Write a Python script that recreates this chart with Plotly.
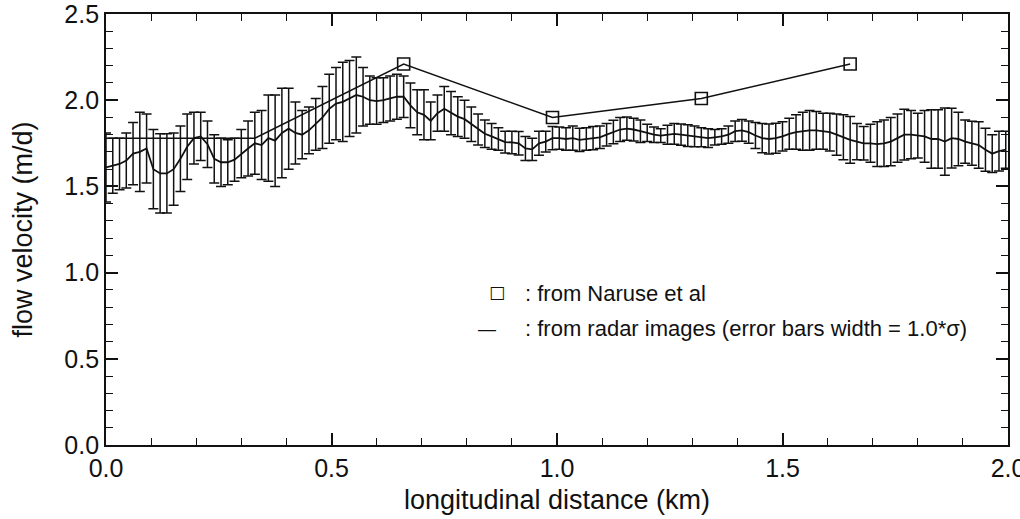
import plotly.graph_objects as go

# ---- data ----
DIST_STEP_KM = 0.015

radar_velocity = [
    1.61, 1.62, 1.63, 1.65, 1.69, 1.70, 1.72, 1.60, 1.575, 1.575, 1.60, 1.66, 1.73, 1.78, 1.79, 1.745,
    1.66, 1.64, 1.64, 1.655, 1.69, 1.72, 1.75,
    1.74, 1.78, 1.765, 1.81, 1.835, 1.81, 1.80, 1.825, 1.86, 1.90, 1.95, 1.98, 1.99, 2.01, 2.03, 2.02,
    2.00, 1.995, 2.00, 2.01, 2.02, 2.02,
    1.97, 1.93, 1.915, 1.88, 1.925, 1.95, 1.925, 1.905, 1.89, 1.86, 1.83, 1.805, 1.79, 1.775, 1.757,
    1.755, 1.75, 1.72, 1.715, 1.75, 1.76, 1.78,
    1.78, 1.775, 1.78, 1.77, 1.775, 1.78, 1.785, 1.80, 1.815, 1.83, 1.835, 1.83, 1.82, 1.81, 1.80,
    1.795, 1.80, 1.805, 1.80, 1.795, 1.79, 1.785, 1.78, 1.785, 1.79, 1.80, 1.82, 1.825, 1.815, 1.795,
    1.78, 1.775, 1.78, 1.79, 1.805, 1.815, 1.82, 1.825, 1.825, 1.82, 1.815, 1.80, 1.785,
    1.77, 1.76, 1.75, 1.75, 1.745, 1.75, 1.76, 1.78, 1.80, 1.80, 1.795, 1.79, 1.775, 1.775, 1.76,
    1.78, 1.775, 1.76, 1.75, 1.74, 1.713, 1.69, 1.705, 1.713,
]

radar_sigma = [
    0.20, 0.16, 0.15, 0.16, 0.18, 0.23, 0.20, 0.23, 0.23, 0.23, 0.21, 0.19, 0.19, 0.15, 0.14, 0.135,
    0.14, 0.14, 0.13, 0.125, 0.14, 0.16, 0.18,
    0.20, 0.25, 0.265, 0.26, 0.235, 0.18, 0.14, 0.135, 0.15, 0.18, 0.20, 0.21, 0.23, 0.22, 0.22, 0.17,
    0.14, 0.135, 0.13, 0.13, 0.13, 0.12,
    0.13, 0.13, 0.145, 0.11, 0.105, 0.13, 0.125, 0.115, 0.11, 0.10, 0.09, 0.08, 0.075, 0.065, 0.063,
    0.065, 0.068, 0.07, 0.065, 0.07, 0.06, 0.068,
    0.065, 0.065, 0.07, 0.068, 0.065, 0.067, 0.065, 0.065, 0.068, 0.07, 0.068, 0.066, 0.065, 0.05, 0.045,
    0.04, 0.055, 0.06, 0.062, 0.063, 0.06, 0.055, 0.055, 0.045, 0.045, 0.05, 0.06, 0.063, 0.065, 0.075,
    0.085, 0.087, 0.087, 0.085, 0.09, 0.10, 0.11, 0.115, 0.11, 0.105, 0.11, 0.12, 0.13,
    0.135, 0.105, 0.097, 0.11, 0.13, 0.135, 0.14, 0.14, 0.147, 0.14, 0.13, 0.15, 0.17, 0.17, 0.195,
    0.173, 0.155, 0.125, 0.128, 0.135, 0.125, 0.11, 0.115, 0.107,
]

radar_km = [round(i * DIST_STEP_KM, 3) for i in range(len(radar_velocity))]

# Naruse et al. profile (line), and the stations drawn with a square marker
naruse_km = [0.0, 0.33, 0.66, 0.99, 1.32, 1.65]
naruse_velocity = [1.78, 1.78, 2.21, 1.90, 2.01, 2.21]
FIRST_MARKED = 2  # the first two profile points are hidden behind the error bars

x_ticks = [0.0, 0.5, 1.0, 1.5, 2.0]
y_ticks = [0.0, 0.5, 1.0, 1.5, 2.0, 2.5]

FONT = "Liberation Sans, Arial, sans-serif"
INK = "#111111"

fig = go.Figure()

fig.add_trace(go.Scatter(
    x=radar_km, y=radar_velocity, mode="lines",
    line=dict(color=INK, width=1.8),
    error_y=dict(type="data", array=radar_sigma, visible=True,
                 color=INK, thickness=1.5, width=5),
    cliponaxis=False,
    showlegend=False,
))

fig.add_trace(go.Scatter(
    x=naruse_km, y=naruse_velocity, mode="lines",
    line=dict(color=INK, width=1.5),
    cliponaxis=False,
    showlegend=False,
))
fig.add_trace(go.Scatter(
    x=naruse_km[FIRST_MARKED:], y=naruse_velocity[FIRST_MARKED:], mode="markers",
    marker=dict(symbol="square-open", size=12, color=INK, line=dict(width=1.6, color=INK)),
    cliponaxis=False,
    showlegend=False,
))

axis_common = dict(
    showline=True, linecolor=INK, linewidth=1.8, mirror="ticks",
    ticks="inside", ticklen=12, tickwidth=1.5, tickcolor=INK,
    showgrid=False, zeroline=False, automargin=False,
    ticklabeloverflow="allow",
    tickfont=dict(family=FONT, size=25, color=INK),
)

fig.update_xaxes(
    range=[0, 2.0], tickvals=x_ticks, ticktext=[f"{v:.1f}" for v in x_ticks],
    minor=dict(ticks="inside", dtick=0.1, ticklen=7, tickwidth=1.3, tickcolor=INK, showgrid=False),
    title=dict(text="longitudinal distance (km)", font=dict(family=FONT, size=27, color=INK), standoff=9),
    **axis_common,
)
fig.update_yaxes(
    range=[0, 2.5], tickvals=y_ticks, ticktext=[f"{v:.1f}" for v in y_ticks],
    minor=dict(ticks="inside", dtick=0.1, ticklen=7, tickwidth=1.3, tickcolor=INK, showgrid=False),
    title=dict(text="flow velocity (m/d)", font=dict(family=FONT, size=27, color=INK), standoff=24),
    **axis_common,
)

fig.add_annotation(xref="paper", yref="paper", x=0.434, y=0.354, xanchor="center", yanchor="middle",
                   text="□", showarrow=False, font=dict(family="DejaVu Sans", size=17, color=INK))
fig.add_annotation(xref="paper", yref="paper", x=0.462, y=0.352, xanchor="left", yanchor="middle",
                   text=": from Naruse et al", showarrow=False,
                   font=dict(family=FONT, size=22, color=INK))
fig.add_annotation(xref="paper", yref="paper", x=0.4224, y=0.27, xanchor="center", yanchor="middle",
                   text="—", showarrow=False, font=dict(family="DejaVu Sans", size=20, color=INK))
fig.add_annotation(xref="paper", yref="paper", x=0.462, y=0.27, xanchor="left", yanchor="middle",
                   text=": from radar images (error bars width = 1.0*σ)", showarrow=False,
                   font=dict(family=FONT, size=22, color=INK))

fig.update_layout(
    width=1020, height=519,
    margin=dict(l=106, r=12, t=14, b=74),
    paper_bgcolor="white", plot_bgcolor="white",
    font=dict(family=FONT, color=INK),
)

fig.write_html("out.html", config={"displayModeBar": False},
               post_script="document.body.style.margin='0';")
